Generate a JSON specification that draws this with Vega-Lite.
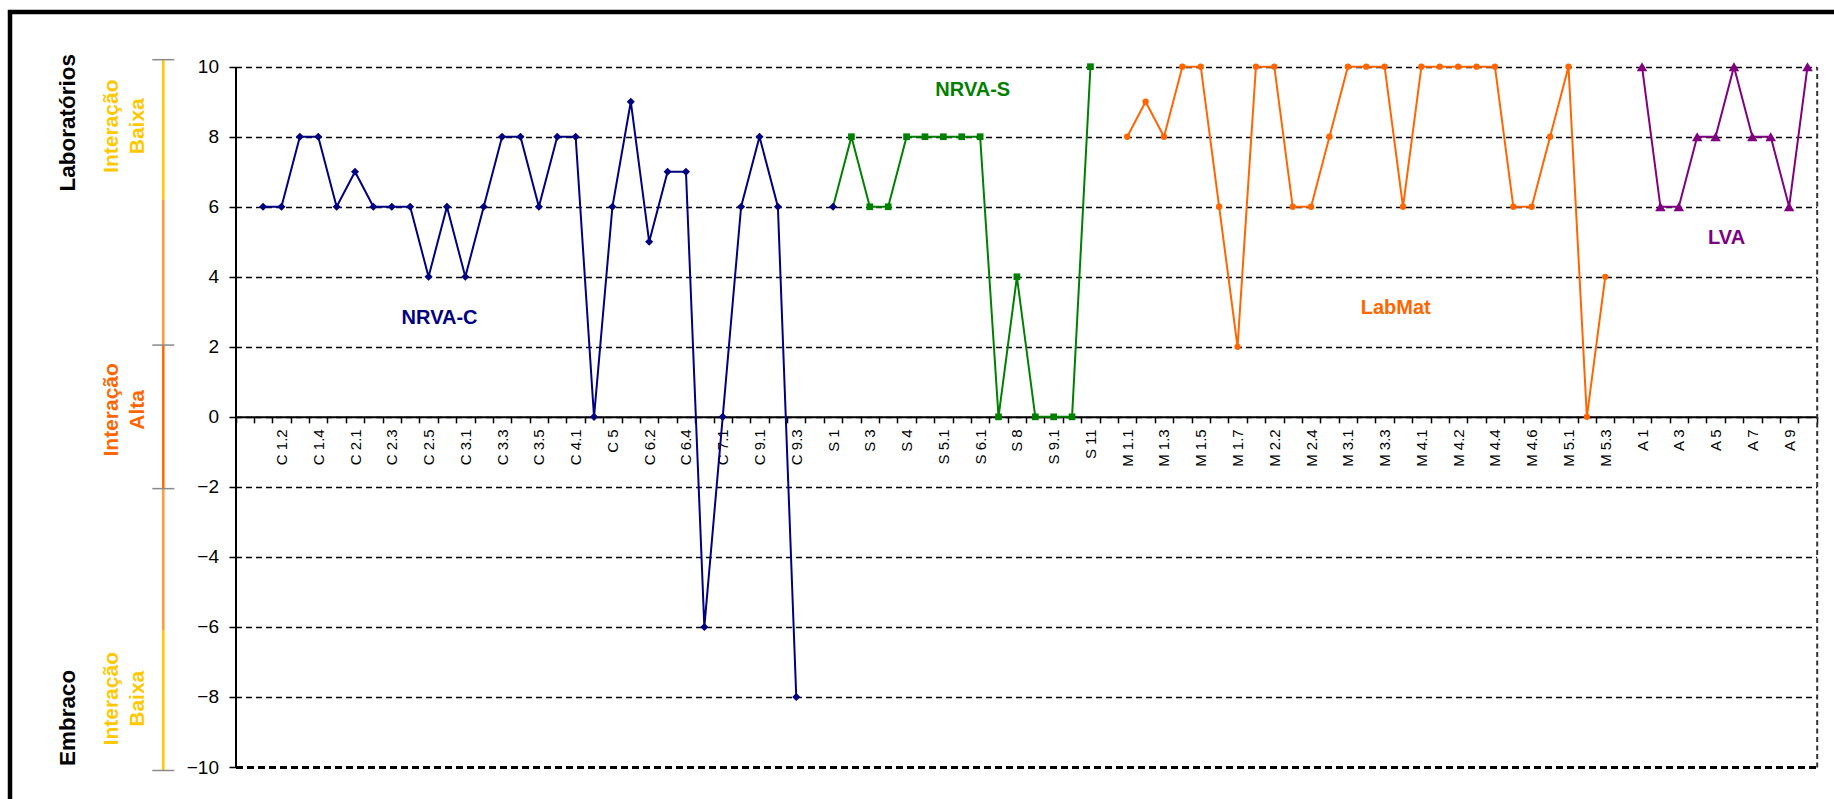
{
  "$schema": "https://vega.github.io/schema/vega-lite/v6.json",
  "width": 1824,
  "height": 787,
  "padding": {"left": 10, "top": 12, "right": 0, "bottom": 0},
  "autosize": {"type": "none"},
  "background": "white",
  "config": {
    "view": {"stroke": "#000", "strokeWidth": 4.5, "strokeDash": [1824, 2611, 787]},
    "font": "Liberation Sans"
  },
  "datasets": {
    "pontos": [
      {"cat": "C 1.1", "serie": "NRVA-C", "marcador": "NRVA-C", "valor": 6},
      {"cat": "C 1.2", "serie": "NRVA-C", "marcador": "NRVA-C", "valor": 6},
      {"cat": "C 1.3", "serie": "NRVA-C", "marcador": "NRVA-C", "valor": 8},
      {"cat": "C 1.4", "serie": "NRVA-C", "marcador": "NRVA-C", "valor": 8},
      {"cat": "C 1.5", "serie": "NRVA-C", "marcador": "NRVA-C", "valor": 6},
      {"cat": "C 2.1", "serie": "NRVA-C", "marcador": "NRVA-C", "valor": 7},
      {"cat": "C 2.2", "serie": "NRVA-C", "marcador": "NRVA-C", "valor": 6},
      {"cat": "C 2.3", "serie": "NRVA-C", "marcador": "NRVA-C", "valor": 6},
      {"cat": "C 2.4", "serie": "NRVA-C", "marcador": "NRVA-C", "valor": 6},
      {"cat": "C 2.5", "serie": "NRVA-C", "marcador": "NRVA-C", "valor": 4},
      {"cat": "C 2.6", "serie": "NRVA-C", "marcador": "NRVA-C", "valor": 6},
      {"cat": "C 3.1", "serie": "NRVA-C", "marcador": "NRVA-C", "valor": 4},
      {"cat": "C 3.2", "serie": "NRVA-C", "marcador": "NRVA-C", "valor": 6},
      {"cat": "C 3.3", "serie": "NRVA-C", "marcador": "NRVA-C", "valor": 8},
      {"cat": "C 3.4", "serie": "NRVA-C", "marcador": "NRVA-C", "valor": 8},
      {"cat": "C 3.5", "serie": "NRVA-C", "marcador": "NRVA-C", "valor": 6},
      {"cat": "C 3.6", "serie": "NRVA-C", "marcador": "NRVA-C", "valor": 8},
      {"cat": "C 4.1", "serie": "NRVA-C", "marcador": "NRVA-C", "valor": 8},
      {"cat": "C 4.2", "serie": "NRVA-C", "marcador": "NRVA-C", "valor": 0},
      {"cat": "C 5", "serie": "NRVA-C", "marcador": "NRVA-C", "valor": 6},
      {"cat": "C 6.1", "serie": "NRVA-C", "marcador": "NRVA-C", "valor": 9},
      {"cat": "C 6.2", "serie": "NRVA-C", "marcador": "NRVA-C", "valor": 5},
      {"cat": "C 6.3", "serie": "NRVA-C", "marcador": "NRVA-C", "valor": 7},
      {"cat": "C 6.4", "serie": "NRVA-C", "marcador": "NRVA-C", "valor": 7},
      {"cat": "C 6.5", "serie": "NRVA-C", "marcador": "NRVA-C", "valor": -6},
      {"cat": "C 7.1", "serie": "NRVA-C", "marcador": "NRVA-C", "valor": 0},
      {"cat": "C 8.1", "serie": "NRVA-C", "marcador": "NRVA-C", "valor": 6},
      {"cat": "C 9.1", "serie": "NRVA-C", "marcador": "NRVA-C", "valor": 8},
      {"cat": "C 9.2", "serie": "NRVA-C", "marcador": "NRVA-C", "valor": 6},
      {"cat": "C 9.3", "serie": "NRVA-C", "marcador": "NRVA-C", "valor": -8},
      {"cat": "S 1", "serie": "NRVA-S", "marcador": "NRVA-C", "valor": 6},
      {"cat": "S 2", "serie": "NRVA-S", "marcador": "NRVA-S", "valor": 8},
      {"cat": "S 3", "serie": "NRVA-S", "marcador": "NRVA-S", "valor": 6},
      {"cat": "S 3.1", "serie": "NRVA-S", "marcador": "NRVA-S", "valor": 6},
      {"cat": "S 4", "serie": "NRVA-S", "marcador": "NRVA-S", "valor": 8},
      {"cat": "S 5", "serie": "NRVA-S", "marcador": "NRVA-S", "valor": 8},
      {"cat": "S 5.1", "serie": "NRVA-S", "marcador": "NRVA-S", "valor": 8},
      {"cat": "S 5.2", "serie": "NRVA-S", "marcador": "NRVA-S", "valor": 8},
      {"cat": "S 6.1", "serie": "NRVA-S", "marcador": "NRVA-S", "valor": 8},
      {"cat": "S 7", "serie": "NRVA-S", "marcador": "NRVA-S", "valor": 0},
      {"cat": "S 8", "serie": "NRVA-S", "marcador": "NRVA-S", "valor": 4},
      {"cat": "S 9", "serie": "NRVA-S", "marcador": "NRVA-S", "valor": 0},
      {"cat": "S 9.1", "serie": "NRVA-S", "marcador": "NRVA-S", "valor": 0},
      {"cat": "S 10", "serie": "NRVA-S", "marcador": "NRVA-S", "valor": 0},
      {"cat": "S 11", "serie": "NRVA-S", "marcador": "NRVA-S", "valor": 10},
      {"cat": "M 1.1", "serie": "LabMat", "marcador": "LabMat", "valor": 8},
      {"cat": "M 1.2", "serie": "LabMat", "marcador": "LabMat", "valor": 9},
      {"cat": "M 1.3", "serie": "LabMat", "marcador": "LabMat", "valor": 8},
      {"cat": "M 1.4", "serie": "LabMat", "marcador": "LabMat", "valor": 10},
      {"cat": "M 1.5", "serie": "LabMat", "marcador": "LabMat", "valor": 10},
      {"cat": "M 1.6", "serie": "LabMat", "marcador": "LabMat", "valor": 6},
      {"cat": "M 1.7", "serie": "LabMat", "marcador": "LabMat", "valor": 2},
      {"cat": "M 2.1", "serie": "LabMat", "marcador": "LabMat", "valor": 10},
      {"cat": "M 2.2", "serie": "LabMat", "marcador": "LabMat", "valor": 10},
      {"cat": "M 2.3", "serie": "LabMat", "marcador": "LabMat", "valor": 6},
      {"cat": "M 2.4", "serie": "LabMat", "marcador": "LabMat", "valor": 6},
      {"cat": "M 2.5", "serie": "LabMat", "marcador": "LabMat", "valor": 8},
      {"cat": "M 3.1", "serie": "LabMat", "marcador": "LabMat", "valor": 10},
      {"cat": "M 3.2", "serie": "LabMat", "marcador": "LabMat", "valor": 10},
      {"cat": "M 3.3", "serie": "LabMat", "marcador": "LabMat", "valor": 10},
      {"cat": "M 3.4", "serie": "LabMat", "marcador": "LabMat", "valor": 6},
      {"cat": "M 4.1", "serie": "LabMat", "marcador": "LabMat", "valor": 10},
      {"cat": "M 4.1.1", "serie": "LabMat", "marcador": "LabMat", "valor": 10},
      {"cat": "M 4.2", "serie": "LabMat", "marcador": "LabMat", "valor": 10},
      {"cat": "M 4.3", "serie": "LabMat", "marcador": "LabMat", "valor": 10},
      {"cat": "M 4.4", "serie": "LabMat", "marcador": "LabMat", "valor": 10},
      {"cat": "M 4.5", "serie": "LabMat", "marcador": "LabMat", "valor": 6},
      {"cat": "M 4.6", "serie": "LabMat", "marcador": "LabMat", "valor": 6},
      {"cat": "M 4.7", "serie": "LabMat", "marcador": "LabMat", "valor": 8},
      {"cat": "M 5.1", "serie": "LabMat", "marcador": "LabMat", "valor": 10},
      {"cat": "M 5.2", "serie": "LabMat", "marcador": "LabMat", "valor": 0},
      {"cat": "M 5.3", "serie": "LabMat", "marcador": "LabMat", "valor": 4},
      {"cat": "A 1", "serie": "LVA", "marcador": "LVA", "valor": 10},
      {"cat": "A 2", "serie": "LVA", "marcador": "LVA", "valor": 6},
      {"cat": "A 3", "serie": "LVA", "marcador": "LVA", "valor": 6},
      {"cat": "A 4", "serie": "LVA", "marcador": "LVA", "valor": 8},
      {"cat": "A 5", "serie": "LVA", "marcador": "LVA", "valor": 8},
      {"cat": "A 6", "serie": "LVA", "marcador": "LVA", "valor": 10},
      {"cat": "A 7", "serie": "LVA", "marcador": "LVA", "valor": 8},
      {"cat": "A 8", "serie": "LVA", "marcador": "LVA", "valor": 8},
      {"cat": "A 9", "serie": "LVA", "marcador": "LVA", "valor": 6},
      {"cat": "A 10", "serie": "LVA", "marcador": "LVA", "valor": 10}
    ],
    "rotulos": [
      {"texto": "NRVA-C", "serie": "NRVA-C", "cat": "C 2.6", "valor": 2.81},
      {"texto": "NRVA-S", "serie": "NRVA-S", "cat": "S 6.1", "valor": 9.34},
      {"texto": "LabMat", "serie": "LabMat", "cat": "M 3.4", "valor": 3.1},
      {"texto": "LVA", "serie": "LVA", "cat": "A 6", "valor": 5.1}
    ],
    "faixas": [
      {"nivel": "Baixa", "inicio": 10.2, "fim": 6.2},
      {"nivel": "Média", "inicio": 6.2, "fim": 2.05},
      {"nivel": "Alta", "inicio": 2.05, "fim": -2.05},
      {"nivel": "Média", "inicio": -2.05, "fim": -6.1},
      {"nivel": "Baixa", "inicio": -6.1, "fim": -10.1}
    ],
    "limites": [
      {"limite": 10.2},
      {"limite": 2.05},
      {"limite": -2.05},
      {"limite": -10.1}
    ],
    "grupos": [
      {"texto": "Laboratórios", "posicao": 8.4},
      {"texto": "Embraco", "posicao": -8.6}
    ],
    "interacao": [
      {"texto": "Interação\nBaixa", "nivel": "Baixa", "posicao": 8.3},
      {"texto": "Interação\nAlta", "nivel": "Alta", "posicao": 0.2},
      {"texto": "Interação\nBaixa", "nivel": "Baixa", "posicao": -8.05}
    ]
  },
  "resolve": {"scale": {"x": "independent"}, "axis": {"x": "independent", "y": "independent"}},
  "layer": [
    {
      "layer": [
        {
          "data": {"name": "faixas"},
          "mark": {"type": "rule", "strokeWidth": 2.5},
          "encoding": {
            "x": {"datum": "faixa", "type": "nominal", "scale": {"type": "point", "domain": ["grupo", "interacao", "faixa"], "range": [58.3, 153.3], "padding": 0}, "axis": null},
            "y": {"field": "inicio", "type": "quantitative", "scale": {"domain": [-10, 10], "range": [755, 54.7], "nice": false, "zero": false}, "axis": null},
            "y2": {"field": "fim"},
            "color": {"field": "nivel", "type": "nominal", "legend": null,
              "scale": {"domain": ["NRVA-C", "NRVA-S", "LabMat", "LVA", "Baixa", "Média", "Alta"], "range": ["#000080", "#008000", "#FF6600", "#800080", "#FFC800", "#FF9933", "#FF6600"]}}
          }
        },
        {
          "data": {"name": "limites"},
          "mark": {"type": "tick", "size": 22, "thickness": 1.5, "color": "#8a8a8a", "opacity": 1},
          "encoding": {
            "x": {"datum": "faixa", "type": "nominal", "scale": {"type": "point", "domain": ["grupo", "interacao", "faixa"], "range": [58.3, 153.3], "padding": 0}, "axis": null},
            "y": {"field": "limite", "type": "quantitative", "scale": {"domain": [-10, 10], "range": [755, 54.7], "nice": false, "zero": false}, "axis": null}
          }
        },
        {
          "data": {"name": "grupos"},
          "mark": {"type": "text", "angle": 270, "fontSize": 22.5, "fontWeight": "bold", "color": "#000", "align": "center", "baseline": "middle"},
          "encoding": {
            "x": {"datum": "grupo", "type": "nominal", "scale": {"type": "point", "domain": ["grupo", "interacao", "faixa"], "range": [58.3, 153.3], "padding": 0}, "axis": null},
            "y": {"field": "posicao", "type": "quantitative", "scale": {"domain": [-10, 10], "range": [755, 54.7], "nice": false, "zero": false}, "axis": null},
            "text": {"field": "texto"}
          }
        },
        {
          "data": {"name": "interacao"},
          "mark": {"type": "text", "angle": 270, "fontSize": 21, "fontWeight": "bold", "align": "center", "baseline": "middle", "lineBreak": "\n", "lineHeight": 26, "dy": -3.5},
          "encoding": {
            "x": {"datum": "interacao", "type": "nominal", "scale": {"type": "point", "domain": ["grupo", "interacao", "faixa"], "range": [58.3, 153.3], "padding": 0}, "axis": null},
            "y": {"field": "posicao", "type": "quantitative", "scale": {"domain": [-10, 10], "range": [755, 54.7], "nice": false, "zero": false}, "axis": null},
            "text": {"field": "texto"},
            "color": {"field": "nivel", "type": "nominal", "legend": null,
              "scale": {"domain": ["NRVA-C", "NRVA-S", "LabMat", "LVA", "Baixa", "Média", "Alta"], "range": ["#000080", "#008000", "#FF6600", "#800080", "#FFC800", "#FF9933", "#FF6600"]}}
          }
        }
      ]
    },
    {
      "resolve": {"axis": {"x": "independent", "y": "independent"}},
      "layer": [
        {
          "data": {"name": "pontos"},
          "mark": {"type": "line", "strokeWidth": 2},
          "encoding": {
            "x": {"field": "cat", "type": "nominal", "sort": null,
              "scale": {"type": "band", "range": [225.5, 1806.7], "paddingInner": 0, "paddingOuter": 0,
                "domain": [" ", "C 1.1", "C 1.2", "C 1.3", "C 1.4", "C 1.5", "C 2.1", "C 2.2", "C 2.3", "C 2.4", "C 2.5", "C 2.6", "C 3.1", "C 3.2", "C 3.3", "C 3.4", "C 3.5", "C 3.6", "C 4.1", "C 4.2", "C 5", "C 6.1", "C 6.2", "C 6.3", "C 6.4", "C 6.5", "C 7.1", "C 8.1", "C 9.1", "C 9.2", "C 9.3", "  ", "S 1", "S 2", "S 3", "S 3.1", "S 4", "S 5", "S 5.1", "S 5.2", "S 6.1", "S 7", "S 8", "S 9", "S 9.1", "S 10", "S 11", "   ", "M 1.1", "M 1.2", "M 1.3", "M 1.4", "M 1.5", "M 1.6", "M 1.7", "M 2.1", "M 2.2", "M 2.3", "M 2.4", "M 2.5", "M 3.1", "M 3.2", "M 3.3", "M 3.4", "M 4.1", "M 4.1.1", "M 4.2", "M 4.3", "M 4.4", "M 4.5", "M 4.6", "M 4.7", "M 5.1", "M 5.2", "M 5.3", "    ", "A 1", "A 2", "A 3", "A 4", "A 5", "A 6", "A 7", "A 8", "A 9", "A 10"]},
              "axis": {"orient": "bottom", "offset": -382.15, "title": null, "grid": false,
                "tickBand": "extent", "tickSize": 6, "tickColor": "#000", "tickWidth": 1.5,
                "domainColor": "#000", "domainWidth": 2,
                "labelAngle": 270, "labelFontSize": 15, "labelColor": "#000", "labelPadding": 6, "labelFont": "Liberation Sans",
                "labelOverlap": false,
                "labelExpr": "round(datum.index * 85) % 2 == 0 ? datum.label : ''"}},
            "y": {"field": "valor", "type": "quantitative",
              "scale": {"domain": [-10, 10], "range": [755, 54.7], "nice": false, "zero": false},
              "axis": {"orient": "left", "offset": -225.5, "title": null, "values": [-10, -8, -6, -4, -2, 0, 2, 4, 6, 8, 10],
                "grid": true, "gridColor": "#000", "gridOpacity": 1,
                "gridDash": {"condition": {"test": "datum.value === -10", "value": [7, 4]}, "value": [6, 4]},
                "gridWidth": {"condition": {"test": "datum.value === -10", "value": 3}, "value": 1.3},
                "domainColor": "#000", "domainWidth": 2, "tickColor": "#000", "tickSize": 6.5, "tickWidth": 1.5,
                "labelFontSize": 19, "labelColor": "#000", "labelPadding": 10.5, "labelFont": "Liberation Sans",
                "labelFlush": false, "labelOverlap": false}},
            "color": {"field": "serie", "type": "nominal", "legend": null,
              "scale": {"domain": ["NRVA-C", "NRVA-S", "LabMat", "LVA", "Baixa", "Média", "Alta"], "range": ["#000080", "#008000", "#FF6600", "#800080", "#FFC800", "#FF9933", "#FF6600"]}}
          }
        },
        {
          "data": {"name": "pontos"},
          "mark": {"type": "point", "filled": true, "opacity": 1},
          "encoding": {
            "x": {"field": "cat", "type": "nominal", "sort": null, "axis": null},
            "y": {"field": "valor", "type": "quantitative", "scale": {"domain": [-10, 10], "range": [755, 54.7], "nice": false, "zero": false}, "axis": null},
            "color": {"field": "marcador", "type": "nominal", "legend": null,
              "scale": {"domain": ["NRVA-C", "NRVA-S", "LabMat", "LVA", "Baixa", "Média", "Alta"], "range": ["#000080", "#008000", "#FF6600", "#800080", "#FFC800", "#FF9933", "#FF6600"]}},
            "shape": {"field": "marcador", "type": "nominal", "legend": null,
              "scale": {"domain": ["NRVA-C", "NRVA-S", "LabMat", "LVA"], "range": ["diamond", "square", "circle", "triangle-up"]}},
            "size": {"field": "marcador", "type": "nominal", "legend": null,
              "scale": {"type": "ordinal", "domain": ["NRVA-C", "NRVA-S", "LabMat", "LVA"], "range": [65, 45, 40, 110]}}
          }
        },
        {
          "data": {"name": "rotulos"},
          "mark": {"type": "text", "fontSize": 20, "fontWeight": "bold", "align": "center", "baseline": "middle"},
          "encoding": {
            "x": {"field": "cat", "type": "nominal", "sort": null, "bandPosition": 0.1, "axis": null},
            "y": {"field": "valor", "type": "quantitative",
              "scale": {"domain": [-10, 10], "range": [755, 54.7], "nice": false, "zero": false},
              "axis": {"orient": "right", "offset": -17.3, "title": null, "ticks": false, "labels": false, "grid": false,
                "domainColor": "#333", "domainWidth": 2, "domainDash": [5, 3.5]}},
            "text": {"field": "texto"},
            "color": {"field": "serie", "type": "nominal", "legend": null,
              "scale": {"domain": ["NRVA-C", "NRVA-S", "LabMat", "LVA", "Baixa", "Média", "Alta"], "range": ["#000080", "#008000", "#FF6600", "#800080", "#FFC800", "#FF9933", "#FF6600"]}}
          }
        }
      ]
    }
  ]
}
